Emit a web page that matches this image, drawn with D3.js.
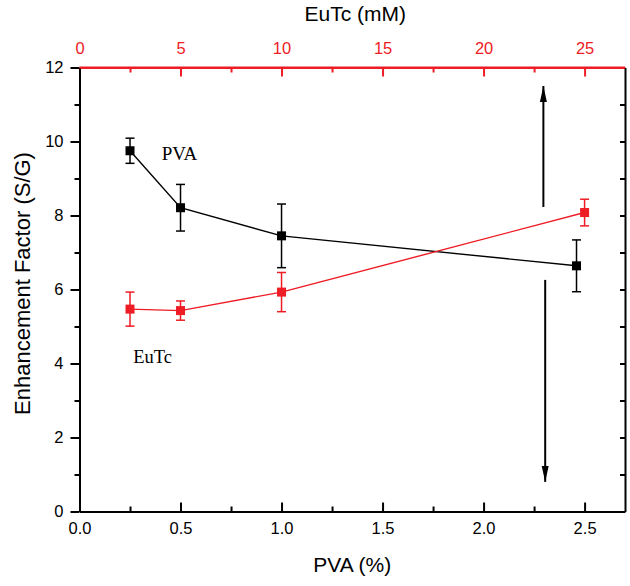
<!DOCTYPE html>
<html>
<head>
<meta charset="utf-8">
<script src="https://cdn.jsdelivr.net/npm/d3@7"></script>
<style>
  body { margin: 0; background: #fff; }
  svg { display: block; font-family: "Liberation Sans", Arial, sans-serif; }
</style>
</head>
<body>
<svg id="chart" width="630" height="586"></svg>
<script>
// PVA series (bottom axis, %)
const pvaX = [0.25, 0.5, 1.0, 2.46];
const pvaY = [9.75, 8.21, 7.45, 6.64];
const pvaErr = [0.34, 0.63, 0.86, 0.70];

// EuTc series (top axis, mM)
const eutcX = [2.5, 5, 10, 25];
const eutcY = [5.47, 5.43, 5.93, 8.08];
const eutcErr = [0.46, 0.26, 0.53, 0.36];

const bottomTicks = [0, 0.5, 1.0, 1.5, 2.0, 2.5];
const topTicks = [0, 5, 10, 15, 20, 25];
const leftTicks = [0, 2, 4, 6, 8, 10, 12];

// arrows (PVA x, value y): [x, yFrom, yTo]
const arrows = [[2.296, 8.23, 11.5], [2.305, 6.26, 0.8]];

const RED = "#ee1c25";

const svg = d3.select("#chart");
const W = +svg.attr("width");
const H = +svg.attr("height");
const margin = { top: 67.5, right: 5, bottom: 74.5, left: 79.5 };
const innerW = W - margin.left - margin.right;
const innerH = H - margin.top - margin.bottom;

const g = svg.append("g").attr("transform", `translate(${margin.left},${margin.top})`);

const x = d3.scaleLinear().domain([0, 2.7]).range([0, innerW]);
const xTop = d3.scaleLinear().domain([0, 27]).range([0, innerW]);
const y = d3.scaleLinear().domain([0, 12]).range([innerH, 0]);

// arrow head
svg.append("defs").append("marker")
  .attr("id", "head")
  .attr("viewBox", "0 0 16 8")
  .attr("refX", 16).attr("refY", 4)
  .attr("markerWidth", 16).attr("markerHeight", 8)
  .attr("markerUnits", "userSpaceOnUse")
  .attr("orient", "auto")
  .append("path").attr("d", "M0,0.5 L16,4 L0,7.5 Z").attr("fill", "#000");

// bottom axis (ticks inward)
const xb = g.append("g").attr("transform", `translate(0,${innerH})`)
  .call(d3.axisBottom(x).tickValues(d3.range(0, 2.7, 0.25)).tickSize(0).tickFormat(""));
xb.select(".domain").attr("stroke-width", 2);
xb.selectAll(".tick line").attr("y2", (d, i) => i % 2 ? -5 : -9).attr("stroke-width", 2);
const xbl = g.append("g").attr("transform", `translate(0,${innerH})`)
  .call(d3.axisBottom(x).tickValues(bottomTicks).tickSize(0).tickPadding(11).tickFormat(d3.format(".1f")));
xbl.select(".domain").remove();
xbl.selectAll("text").style("font-size", "16.5px").attr("fill", "#000");

// top axis (red, ticks inward)
const xt = g.append("g")
  .call(d3.axisTop(xTop).tickValues(d3.range(0, 27, 2.5)).tickSize(0).tickFormat(""));
xt.select(".domain").attr("stroke", RED).attr("stroke-width", 2);
xt.selectAll(".tick line").attr("stroke", RED).attr("y2", (d, i) => i % 2 ? 5 : 9).attr("stroke-width", 2);
const xtl = g.append("g")
  .call(d3.axisTop(xTop).tickValues(topTicks).tickSize(0).tickPadding(14));
xtl.select(".domain").remove();
xtl.selectAll("text").style("font-size", "16.5px").attr("fill", RED);

// left axis (ticks outward)
const yl = g.append("g")
  .call(d3.axisLeft(y).tickValues(d3.range(0, 12.5, 1)).tickSize(0).tickFormat(""));
yl.select(".domain").attr("stroke-width", 2);
yl.selectAll(".tick line").attr("x2", (d, i) => i % 2 ? -5 : -9).attr("stroke-width", 2);
const yll = g.append("g")
  .call(d3.axisLeft(y).tickValues(leftTicks).tickSize(0).tickPadding(16));
yll.select(".domain").remove();
yll.selectAll("text").style("font-size", "16.5px").attr("fill", "#000");

// right axis (ticks inward)
const yr = g.append("g").attr("transform", `translate(${innerW},0)`)
  .call(d3.axisRight(y).tickValues(d3.range(1, 12, 1)).tickSize(0).tickFormat(""));
yr.select(".domain").attr("stroke-width", 2);
yr.selectAll(".tick line").attr("x2", -5).attr("stroke-width", 2);

// top frame line in red over the corners
g.append("line").attr("x1", 0).attr("x2", innerW).attr("y1", 0).attr("y2", 0)
  .attr("stroke", RED).attr("stroke-width", 2);

// series: line, error bars, square markers
function drawSeries(xs, ys, es, sx, color) {
  const pts = xs.map((v, i) => ({ x: sx(v), y: y(ys[i]), lo: y(ys[i] - es[i]), hi: y(ys[i] + es[i]) }));
  g.append("path")
    .datum(pts)
    .attr("fill", "none")
    .attr("stroke", color)
    .attr("stroke-width", 1.4)
    .attr("d", d3.line().x(d => d.x).y(d => d.y));
  const eb = g.append("g").attr("stroke", color).attr("stroke-width", 1.5);
  pts.forEach(p => {
    eb.append("line").attr("x1", p.x).attr("x2", p.x).attr("y1", p.lo).attr("y2", p.hi);
    eb.append("line").attr("x1", p.x - 4.5).attr("x2", p.x + 4.5).attr("y1", p.lo).attr("y2", p.lo);
    eb.append("line").attr("x1", p.x - 4.5).attr("x2", p.x + 4.5).attr("y1", p.hi).attr("y2", p.hi);
  });
  g.append("g").selectAll("rect")
    .data(pts)
    .enter()
    .append("rect")
    .attr("x", d => d.x - 4.5)
    .attr("y", d => d.y - 4.5)
    .attr("width", 9)
    .attr("height", 9)
    .attr("fill", color);
}
drawSeries(pvaX, pvaY, pvaErr, x, "#000");
drawSeries(eutcX, eutcY, eutcErr, xTop, RED);

// arrows
arrows.forEach(a => {
  g.append("line")
    .attr("x1", x(a[0])).attr("x2", x(a[0]))
    .attr("y1", y(a[1])).attr("y2", y(a[2]))
    .attr("stroke", "#000").attr("stroke-width", 2)
    .attr("marker-end", "url(#head)");
});

// series labels
g.append("text").attr("x", x(0.407)).attr("y", y(9.5))
  .style("font-family", "'Liberation Serif', 'Times New Roman', serif")
  .style("font-size", "19px").text("PVA");
g.append("text").attr("x", x(0.266)).attr("y", y(4.02))
  .style("font-family", "'Liberation Serif', 'Times New Roman', serif")
  .style("font-size", "18.5px").text("EuTc");

// axis titles
svg.append("text")
  .attr("x", margin.left + innerW / 2)
  .attr("y", 572)
  .attr("text-anchor", "middle")
  .style("font-size", "21px")
  .text("PVA (%)");

svg.append("text")
  .attr("x", margin.left + innerW / 2 + 3)
  .attr("y", 21)
  .attr("text-anchor", "middle")
  .style("font-size", "21px")
  .text("EuTc (mM)");

svg.append("text")
  .attr("transform", "rotate(-90)")
  .attr("x", -(margin.top + innerH / 2) + 6)
  .attr("y", 30)
  .attr("text-anchor", "middle")
  .style("font-size", "22px")
  .text("Enhancement Factor (S/G)");
</script>
</body>
</html>
